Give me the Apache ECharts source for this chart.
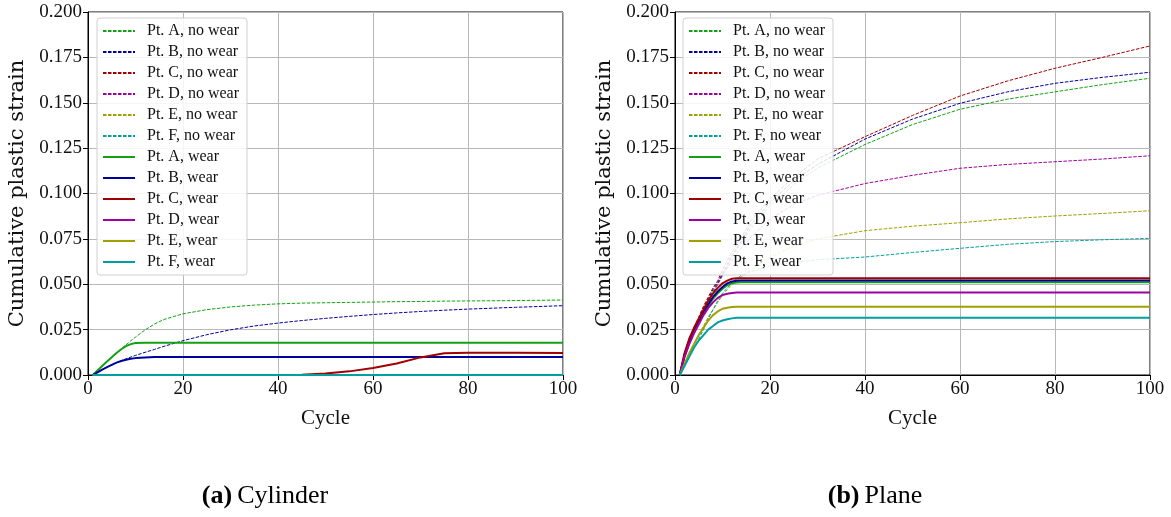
<!DOCTYPE html>
<html>
<head>
<meta charset="utf-8">
<script src="https://cdn.jsdelivr.net/npm/echarts@6/dist/echarts.min.js"></script>
<style>
html,body{margin:0;padding:0;background:#fff;}
#chart{width:1171px;height:517px;}
</style>
</head>
<body>
<div id="chart"></div>
<script>
// ---------- data ----------
const seriesNames = ['Pt. A, no wear','Pt. B, no wear','Pt. C, no wear','Pt. D, no wear','Pt. E, no wear','Pt. F, no wear',
                     'Pt. A, wear','Pt. B, wear','Pt. C, wear','Pt. D, wear','Pt. E, wear','Pt. F, wear'];
const xTicks = [0, 20, 40, 60, 80, 100];
const yTicks = [0, 0.025, 0.05, 0.075, 0.1, 0.125, 0.15, 0.175, 0.2];

// (a) Cylinder
const cylCycles = [1,2,3,4,5,6,7,8,9,10,12,14,16,20,25,30,35,40,45,50,55,60,65,70,75,80,90,100];
const cylA_noWear = [0,0.0025,0.005,0.0074,0.0098,0.0121,0.0144,0.0166,0.0188,0.0209,0.0248,0.0281,0.0306,0.0337,0.0360,0.0375,0.0385,0.0392,0.0396,0.0398,0.0400,0.0402,0.0404,0.0405,0.0407,0.0408,0.0410,0.0413];
const cylB_noWear = [0,0.0015,0.003,0.0043,0.0056,0.0068,0.0079,0.0089,0.0099,0.0108,0.0125,0.0141,0.0158,0.0189,0.0222,0.0249,0.0270,0.0286,0.0300,0.0312,0.0323,0.0333,0.0342,0.0350,0.0357,0.0363,0.0373,0.0382];
const cylC_noWear = [0,0,0,0,0,0,0,0,0,0,0,0,0,0,0,0,0,0,0,0,0,0,0,0,0,0,0,0];
const cylD_noWear = [0,0,0,0,0,0,0,0,0,0,0,0,0,0,0,0,0,0,0,0,0,0,0,0,0,0,0,0];
const cylE_noWear = [0,0,0,0,0,0,0,0,0,0,0,0,0,0,0,0,0,0,0,0,0,0,0,0,0,0,0,0];
const cylF_noWear = [0,0,0,0,0,0,0,0,0,0,0,0,0,0,0,0,0,0,0,0,0,0,0,0,0,0,0,0];
const cylA_wear = [0,0.0025,0.005,0.0074,0.0098,0.0121,0.0142,0.0159,0.0170,0.0176,0.0178,0.0178,0.0178,0.0178,0.0178,0.0178,0.0178,0.0178,0.0178,0.0178,0.0178,0.0178,0.0178,0.0178,0.0178,0.0178,0.0178,0.0178];
const cylB_wear = [0,0.0015,0.003,0.0043,0.0056,0.0068,0.0077,0.0084,0.0089,0.0093,0.0097,0.0099,0.0099,0.0099,0.0099,0.0099,0.0099,0.0099,0.0099,0.0099,0.0099,0.0099,0.0099,0.0099,0.0099,0.0099,0.0099,0.0099];
const cylC_wear = [0,0,0,0,0,0,0,0,0,0,0,0,0,0,0,0,0,0,0.0002,0.0008,0.002,0.0038,0.0063,0.0097,0.0120,0.0123,0.0122,0.0121];
const cylD_wear = [0,0,0,0,0,0,0,0,0,0,0,0,0,0,0,0,0,0,0,0,0,0,0,0,0,0,0,0];
const cylE_wear = [0,0,0,0,0,0,0,0,0,0,0,0,0,0,0,0,0,0,0,0,0,0,0,0,0,0,0,0];
const cylF_wear = [0,0,0,0,0,0,0,0,0,0,0,0,0,0,0,0,0,0,0,0,0,0,0,0,0,0,0,0];

// (b) Plane
const plaCycles = [1,2,3,4,5,6,7,8,9,10,11,12,13,14,16,20,25,30,40,50,60,70,80,90,100];
const plaA_noWear = [0,0.010,0.018,0.024,0.030,0.036,0.041,0.046,0.050,0.055,0.060,0.065,0.069,0.073,0.081,0.093,0.105,0.114,0.127,0.138,0.1464,0.152,0.156,0.160,0.1635];
const plaB_noWear = [0,0.011,0.019,0.025,0.031,0.037,0.042,0.047,0.051,0.056,0.061,0.066,0.070,0.074,0.083,0.095,0.107,0.116,0.130,0.141,0.1497,0.156,0.1607,0.164,0.1668];
const plaC_noWear = [0,0.012,0.020,0.026,0.032,0.038,0.043,0.048,0.052,0.058,0.063,0.068,0.072,0.076,0.085,0.097,0.109,0.119,0.1313,0.143,0.1537,0.162,0.169,0.175,0.1813];
const plaD_noWear = [0,0.010,0.017,0.023,0.029,0.034,0.040,0.045,0.050,0.055,0.059,0.063,0.067,0.070,0.076,0.086,0.094,0.099,0.1055,0.110,0.1139,0.116,0.1175,0.119,0.1208];
const plaE_noWear = [0,0.006,0.012,0.017,0.022,0.027,0.032,0.036,0.040,0.044,0.047,0.050,0.052,0.054,0.058,0.065,0.071,0.075,0.0795,0.082,0.0839,0.086,0.0876,0.089,0.0905];
const plaF_noWear = [0,0.005,0.010,0.015,0.020,0.025,0.031,0.036,0.041,0.045,0.048,0.051,0.053,0.055,0.057,0.060,0.062,0.0635,0.065,0.0675,0.0698,0.072,0.0735,0.0745,0.0753];
const plaA_wear = [0,0.010,0.018,0.024,0.029,0.034,0.038,0.042,0.045,0.0475,0.0495,0.0505,0.0509,0.0511,0.0511,0.0511,0.0511,0.0511,0.0511,0.0511,0.0511,0.0511,0.0511,0.0511,0.0511];
const plaB_wear = [0,0.011,0.019,0.025,0.030,0.035,0.039,0.043,0.046,0.0485,0.0505,0.0515,0.0519,0.052,0.052,0.052,0.052,0.052,0.052,0.052,0.052,0.052,0.052,0.052,0.052];
const plaC_wear = [0,0.012,0.020,0.026,0.031,0.036,0.041,0.045,0.048,0.0505,0.052,0.053,0.0533,0.0533,0.0533,0.0533,0.0533,0.0533,0.0533,0.0533,0.0533,0.0533,0.0533,0.0533,0.0533];
const plaD_wear = [0,0.010,0.017,0.023,0.028,0.033,0.037,0.040,0.0425,0.044,0.0448,0.0452,0.0454,0.0454,0.0454,0.0454,0.0454,0.0454,0.0454,0.0454,0.0454,0.0454,0.0454,0.0454,0.0454];
const plaE_wear = [0,0.006,0.012,0.017,0.022,0.026,0.030,0.033,0.035,0.0365,0.0371,0.0375,0.0376,0.0376,0.0376,0.0376,0.0376,0.0376,0.0376,0.0376,0.0376,0.0376,0.0376,0.0376,0.0376];
const plaF_wear = [0,0.005,0.010,0.015,0.019,0.022,0.025,0.027,0.029,0.030,0.0307,0.0312,0.0315,0.0316,0.0316,0.0316,0.0316,0.0316,0.0316,0.0316,0.0316,0.0316,0.0316,0.0316,0.0316];

// ---------- styling ----------
const colors = ['#14a014','#00009a','#a00000','#a000a0','#a0a000','#00a0a0'];
const FONT = '"Liberation Serif", "DejaVu Serif", serif';
const YFONT = '"DejaVu Serif", "Liberation Serif", serif';

const cylSets = [cylA_noWear,cylB_noWear,cylC_noWear,cylD_noWear,cylE_noWear,cylF_noWear,
                 cylA_wear,cylB_wear,cylC_wear,cylD_wear,cylE_wear,cylF_wear];
const plaSets = [plaA_noWear,plaB_noWear,plaC_noWear,plaD_noWear,plaE_noWear,plaF_noWear,
                 plaA_wear,plaB_wear,plaC_wear,plaD_wear,plaE_wear,plaF_wear];

function makeSeries(sets, cycles, idx) {
  return sets.map((vals, i) => {
    const wear = i >= 6;
    return {
      name: seriesNames[i],
      type: 'line',
      xAxisIndex: idx, yAxisIndex: idx,
      data: cycles.map((c, k) => [c, vals[k]]),
      showSymbol: false, symbol: 'none',
      smooth: false,
      animation: false,
      color: colors[i % 6],
      lineStyle: wear ? {width: 2, color: colors[i % 6]}
                      : {width: 1, type: [3.5, 1.5], color: colors[i % 6]},
      z: wear ? 3 : 2
    };
  });
}

function xAxis(idx) {
  return {
    type: 'value', gridIndex: idx, min: xTicks[0], max: xTicks[xTicks.length-1], interval: 20,
    name: 'Cycle', nameLocation: 'middle', nameGap: 33,
    nameTextStyle: {fontFamily: FONT, fontSize: 21, color: '#111'},
    axisLine: {show: true, lineStyle: {color: '#000', width: 1}},
    axisTick: {show: true, length: 5, lineStyle: {color: '#000'}},
    axisLabel: {fontFamily: FONT, fontSize: 19, color: '#111', margin: 5},
    splitLine: {show: true, lineStyle: {color: '#b8b8b8', width: 1}}
  };
}
function yAxis(idx) {
  return {
    type: 'value', gridIndex: idx, min: yTicks[0], max: yTicks[yTicks.length-1], interval: 0.025,
    name: 'Cumulative plastic strain', nameLocation: 'middle', nameGap: 60,
    nameTextStyle: {fontFamily: YFONT, fontSize: 21, color: '#111'},
    axisLine: {show: true, lineStyle: {color: '#000', width: 1}},
    axisTick: {show: true, length: 5, lineStyle: {color: '#000'}},
    axisLabel: {fontFamily: FONT, fontSize: 19, color: '#111', margin: 6,
                formatter: v => v.toFixed(3)},
    splitLine: {show: true, lineStyle: {color: '#b8b8b8', width: 1}}
  };
}
function legend(left) {
  return {
    show: true, orient: 'vertical', left: left, top: 18,
    data: seriesNames,
    itemWidth: 32, itemHeight: 12, itemGap: 3,
    padding: [4, 8, 4, 5],
    backgroundColor: 'rgba(255,255,255,0.85)',
    borderColor: '#d0d0d0', borderWidth: 1, borderRadius: 3,
    itemStyle: {opacity: 0},
    textStyle: {fontFamily: FONT, fontSize: 16, color: '#111', lineHeight: 18, padding: [0,0,0,7]},
    selectedMode: false
  };
}

const chart = echarts.init(document.getElementById('chart'), null, {renderer: 'canvas'});
const capRich = {
  b: {fontFamily: FONT, fontWeight: 'bold', fontSize: 26, color: '#000'},
  n: {fontFamily: FONT, fontWeight: 'normal', fontSize: 26, color: '#000'}
};
chart.setOption({
  backgroundColor: '#fff',
  animation: false,
  grid: [
    {left: 88, top: 12, width: 475, height: 363, show: true, borderColor: '#000', borderWidth: 1},
    {left: 675, top: 12, width: 475, height: 363, show: true, borderColor: '#000', borderWidth: 1}
  ],
  xAxis: [xAxis(0), xAxis(1)],
  yAxis: [yAxis(0), yAxis(1)],
  legend: [legend(97), legend(683)],
  title: [
    {text: '{b|(a)} {n|Cylinder}', left: 260, top: 478, textAlign: 'center',
     textStyle: {fontWeight: 'normal', rich: capRich}},
    {text: '{b|(b)} {n|Plane}', left: 870, top: 478, textAlign: 'center',
     textStyle: {fontWeight: 'normal', rich: capRich}}
  ],
  series: makeSeries(cylSets, cylCycles, 0).concat(makeSeries(plaSets, plaCycles, 1))
});
</script>
</body>
</html>
